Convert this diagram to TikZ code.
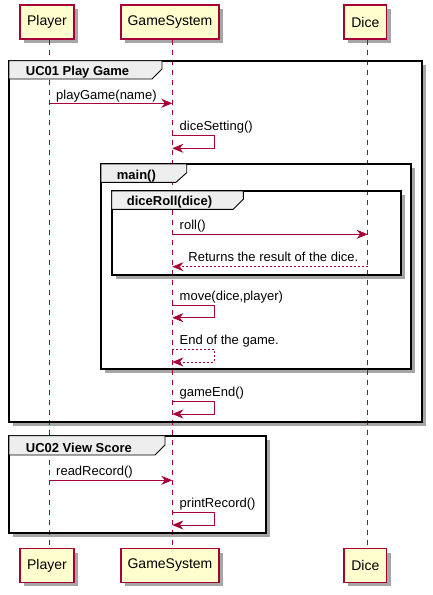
\documentclass[tikz,border=0pt]{standalone}
\usepackage{fontspec}
\setmainfont{Liberation Sans}
\usetikzlibrary{arrows.meta}
\definecolor{pu}{HTML}{A80036}
\definecolor{pbox}{HTML}{FEFECE}
\definecolor{tabg}{HTML}{EEEEEE}
\begin{document}
\begin{tikzpicture}[x=1pt,y=-1pt,
 part/.style={draw=pu, fill=pbox, line width=1.2pt, minimum height=34pt, inner sep=0pt, font=\fontsize{14}{16}\selectfont},
 life/.style={draw=pu, dash pattern=on 5pt off 5pt, line width=0.8pt},
 msg/.style={draw=pu, line width=1pt, -{Stealth[length=11pt,width=9pt,inset=3.5pt]}},
 ret/.style={msg, dash pattern=on 2pt off 2pt},
 lbl/.style={font=\fontsize{13}{15}\selectfont, inner sep=0pt},
 frm/.style={draw=black, line width=2pt},
 tabst/.style={draw=black, line width=0.9pt, fill=tabg},
 shd/.style={fill=black!35, draw=none},
 ttl/.style={font=\bfseries\fontsize{13}{15}\selectfont, inner sep=0pt, anchor=base west},
]
\useasboundingbox (0,0) rectangle (433,595);
\fill[white] (0,0) rectangle (433,595);

% frame shadows and fills
\fill[shd] (13,65) rectangle (425.7,425.7);
\fill[white] (9,60.7) rectangle (421.7,421.7);
\fill[shd] (105,168) rectangle (415,373);
\fill[white] (101,164) rectangle (411,369);
\fill[shd] (115.7,195) rectangle (405,279);
\fill[white] (111.7,191) rectangle (401,275);
\fill[shd] (13,439.7) rectangle (269.7,537.3);
\fill[white] (9,435.7) rectangle (265.7,533.3);

% participant shadows
\foreach \a/\b in {20/74,121/219,344/386.7}{
  \fill[shd] (\a+4,9) rectangle (\b+4,43);
  \fill[shd] (\a+4,553) rectangle (\b+4,586);
}

% participants
\node[part, minimum width=54pt] (pT) at (47,22) {Player};
\node[part, minimum width=98pt] (gT) at (170,22) {GameSystem};
\node[part, minimum width=42.7pt] (dT) at (365.3,22) {Dice};
\node[part, minimum width=54pt] (pB) at (47,565.5) {Player};
\node[part, minimum width=98pt] (gB) at (170,565.5) {GameSystem};
\node[part, minimum width=42.7pt] (dB) at (365.3,565.5) {Dice};

% lifelines
\draw[life] ([xshift=2pt]pT.south) -- ([xshift=2pt]pB.north);
\draw[life] ([xshift=2pt]gT.south) -- ([xshift=2pt]gB.north);
\draw[life] ([xshift=2pt]dT.south) -- ([xshift=2pt]dB.north);

% frames
\draw[frm] (9,60.7) rectangle (421.7,421.7);
\draw[tabst] (9,60.7) -- (162,60.7) -- (162,69) -- (152,79) -- (9,79) -- cycle;
\node[ttl] (t1) at (25.7,75.3) {UC01 Play Game};

\draw[frm] (101,164) rectangle (411,369);
\draw[tabst] (101,164) -- (186.7,164) -- (186.7,172.7) -- (176,182.3) -- (101,182.3) -- cycle;
\node[ttl] (t2) at (116.7,179) {main()};

\draw[frm] (111.7,191) rectangle (401,275);
\draw[tabst] (111.7,191) -- (243.3,191) -- (243.3,199.3) -- (233.3,209.3) -- (111.7,209.3) -- cycle;
\node[ttl] (t3) at (126.7,205.7) {diceRoll(dice)};

\draw[frm] (9,435.7) rectangle (265.7,533.3);
\draw[tabst] (9,435.7) -- (165,435.7) -- (165,445) -- (155,455) -- (9,455) -- cycle;
\node[ttl] (t4) at (25.7,452.3) {UC02 View Score};

% message coordinates
\coordinate (m1a) at (49.3,103.3);  \coordinate (m1b) at (172.3,103.3);
\coordinate (s1a) at (172.3,135.5); \coordinate (s1b) at (172.3,148.3);
\coordinate (m2a) at (172.3,234.3); \coordinate (m2b) at (367.7,234.3);
\coordinate (m3a) at (367.7,266.7); \coordinate (m3b) at (172.3,266.7);
\coordinate (s2a) at (172.3,305);   \coordinate (s2b) at (172.3,317.7);
\coordinate (s3a) at (172.3,349.3); \coordinate (s3b) at (172.3,362);
\coordinate (s4a) at (172.3,401.7); \coordinate (s4b) at (172.3,414);
\coordinate (m4a) at (49.3,480.3);  \coordinate (m4b) at (172.3,480.3);
\coordinate (s5a) at (172.3,512.7); \coordinate (s5b) at (172.3,525);

% messages
\draw[msg] (m1a) -- (m1b);
\node[lbl, anchor=base west] (l1) at (56,99) {playGame(name)};

\draw[msg] (s1a) -- ([xshift=42pt]s1a) |- (s1b);
\node[lbl, anchor=base west] (l2) at (179.5,130.5) {diceSetting()};

\draw[msg] (m2a) -- (m2b);
\node[lbl, anchor=base west] (l3) at (179.5,229.5) {roll()};

\draw[ret] (m3a) -- (m3b);
\node[lbl, anchor=base east] (l4) at (358.5,261.5) {Returns the result of the dice.};

\draw[msg] (s2a) -- ([xshift=42pt]s2a) |- (s2b);
\node[lbl, anchor=base west] (l5) at (179.5,300) {move(dice,player)};

\draw[ret] (s3a) -- ([xshift=42pt]s3a) |- (s3b);
\node[lbl, anchor=base west] (l6) at (179.5,344) {End of the game.};

\draw[msg] (s4a) -- ([xshift=42pt]s4a) |- (s4b);
\node[lbl, anchor=base west] (l7) at (179.5,396.5) {gameEnd()};

\draw[msg] (m4a) -- (m4b);
\node[lbl, anchor=base west] (l8) at (56,475.7) {readRecord()};

\draw[msg] (s5a) -- ([xshift=42pt]s5a) |- (s5b);
\node[lbl, anchor=base west] (l9) at (179.5,507.3) {printRecord()};
\end{tikzpicture}
\end{document}
